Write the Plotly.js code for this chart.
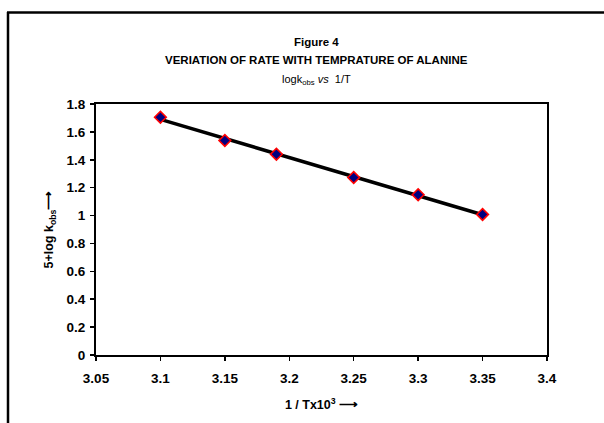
<!DOCTYPE html>
<html>
<head>
<meta charset="utf-8">
<script src="https://cdn.plot.ly/plotly-3.0.1.min.js"></script>
<style>html,body{margin:0;padding:0;background:#fff;}#chart{width:604px;height:423px;}</style>
</head>
<body>
<div id="chart"></div>
<script>
// Data
const invT = [3.10, 3.15, 3.19, 3.25, 3.30, 3.35];
const logK = [1.705, 1.538, 1.440, 1.273, 1.149, 1.008];
const xTickVals = [3.05, 3.1, 3.15, 3.2, 3.25, 3.3, 3.35, 3.4];
const xTickText = ["3.05", "3.1", "3.15", "3.2", "3.25", "3.3", "3.35", "3.4"];
const yTickVals = [0, 0.2, 0.4, 0.6, 0.8, 1, 1.2, 1.4, 1.6, 1.8];
const yTickText = ["0", "0.2", "0.4", "0.6", "0.8", "1", "1.2", "1.4", "1.6", "1.8"];

// Linear trendline (least squares) through the data
const n = invT.length;
const mx = invT.reduce((a, b) => a + b, 0) / n;
const my = logK.reduce((a, b) => a + b, 0) / n;
let sxy = 0, sxx = 0;
for (let i = 0; i < n; i++) { sxy += (invT[i] - mx) * (logK[i] - my); sxx += (invT[i] - mx) ** 2; }
const slope = sxy / sxx, icpt = my - slope * mx;
const trendX = [invT[0], invT[n - 1]];
const trendY = trendX.map(x => icpt + slope * x);

const font = "Arial, 'Liberation Sans', sans-serif";

const traces = [
  {x: trendX, y: trendY, mode: 'lines', line: {color: '#000', width: 3.5}, hoverinfo: 'skip'},
  {x: invT, y: logK, mode: 'markers',
   marker: {symbol: 'diamond', size: 9, color: '#000080', line: {color: '#ff0000', width: 1.6}}}
];

const layout = {
  width: 604, height: 423,
  margin: {l: 96, r: 57, t: 104, b: 68},
  paper_bgcolor: '#fff', plot_bgcolor: '#fff',
  showlegend: false,
  font: {family: font, color: '#000'},
  xaxis: {
    range: [3.05, 3.4], tickvals: xTickVals, ticktext: xTickText,
    showgrid: false, zeroline: false,
    showline: true, linecolor: '#000', linewidth: 2, mirror: true,
    ticks: 'outside', ticklen: 4, tickwidth: 1.5, tickcolor: '#000',
    ticklabelstandoff: 6,
    tickfont: {family: font, size: 13.5, weight: 'bold', color: '#000'},
    title: {text: '1 / Tx10<sup>3</sup> ⟶', font: {family: font, size: 12.5, weight: 'bold', color: '#000'}, standoff: 15}
  },
  yaxis: {
    range: [0, 1.8], tickvals: yTickVals, ticktext: yTickText,
    showgrid: false, zeroline: false,
    showline: true, linecolor: '#000', linewidth: 2, mirror: true,
    ticks: 'outside', ticklen: 4, tickwidth: 1.5, tickcolor: '#000',
    ticklabelstandoff: 2,
    tickfont: {family: font, size: 13.5, weight: 'bold', color: '#000'},
    title: {text: '5+log k<sub>obs</sub>⟶', font: {family: font, size: 12.5, weight: 'bold', color: '#000'}, standoff: 10}
  },
  annotations: [
    {text: '<b>Figure 4</b>', xref: 'paper', yref: 'paper', x: 0.49, y: 1 + (104 - 42) / 251,
     showarrow: false, xanchor: 'center', yanchor: 'middle', font: {family: font, size: 11.5}},
    {text: '<b>VERIATION OF RATE WITH TEMPRATURE OF ALANINE</b>', xref: 'paper', yref: 'paper', x: 0.49, y: 1 + (104 - 60) / 251,
     showarrow: false, xanchor: 'center', yanchor: 'middle', font: {family: font, size: 11.5}},
    {text: 'logk<sub>obs</sub> <i>vs</i>  1/T', xref: 'paper', yref: 'paper', x: 0.49, y: 1 + (104 - 80) / 251,
     showarrow: false, xanchor: 'center', yanchor: 'middle', font: {family: font, size: 11}}
  ],
  shapes: [
    {type: 'line', xref: 'paper', yref: 'paper', x0: -(96 - 8) / 451, x1: -(96 - 8) / 451, y0: 1 + (104 - 12) / 251, y1: -(80) / 251,
     line: {color: '#000', width: 2.5}},
    {type: 'line', xref: 'paper', yref: 'paper', x0: -(96 - 7) / 451, x1: 1 + 80 / 451, y0: 1 + (104 - 12.5) / 251, y1: 1 + (104 - 12.5) / 251,
     line: {color: '#000', width: 2.5}}
  ]
};

Plotly.newPlot('chart', traces, layout, {displayModeBar: false, staticPlot: true});
</script>
</body>
</html>
